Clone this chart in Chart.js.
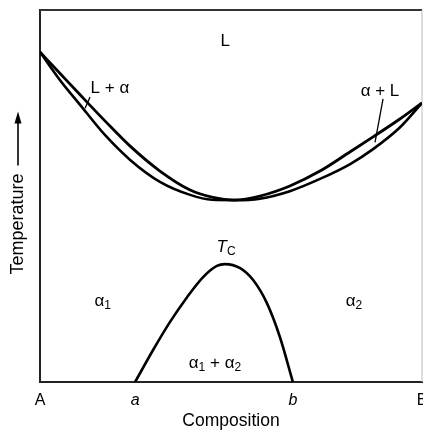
<!DOCTYPE html>
<html><head><meta charset="utf-8">
<script src="https://cdn.jsdelivr.net/npm/chart.js@4/dist/chart.umd.min.js"></script>
<style>html,body{margin:0;padding:0;background:#fff;}canvas{display:block;}</style>
</head><body>
<canvas id="c" width="423" height="432"></canvas>
<script>
// ---- data (composition 0..100, temperature 0..100) ----
const liquidusX = [0, 5.2, 10.5, 17.0, 23.6, 31.4, 39.3, 45.0, 51.0, 57.6, 65.4, 73.3, 81.2, 87.2, 94.2, 100];
const liquidusY = [88.7, 83.0, 77.2, 70.2, 63.4, 56.7, 51.6, 49.7, 48.9, 50.0, 52.7, 56.7, 61.9, 65.9, 70.7, 75.0];
const solidusX  = [0, 5.2, 10.5, 17.0, 23.6, 31.4, 39.3, 45.0, 51.0, 57.6, 65.4, 73.3, 81.2, 87.2, 94.2, 100];
const solidusY  = [88.7, 81.2, 74.5, 66.4, 59.7, 53.8, 50.3, 49.0, 48.9, 49.3, 51.3, 54.6, 58.6, 62.6, 68.4, 75.0];
const domeX = [24.9, 29.6, 34.0, 38.5, 42.7, 46.3, 48.4, 52.4, 55.8, 59.4, 62.8, 66.2];
const domeY = [0, 8.6, 16.1, 22.8, 28.2, 31.2, 31.7, 30.6, 27.4, 21.2, 12.1, 0];
const leaderLeftX = [13.1, 11.8];
const leaderLeftY = [76.6, 73.6];
const leaderRightX = [89.8, 87.7];
const leaderRightY = [76.1, 64.4];
const compTicks = [0, 24.9, 66.2, 100];
const compLabels = ['A', 'a', 'b', 'B'];
const regionLabels = ['L', 'L + α', 'α + L', 'T_C', 'α_1', 'α_2', 'α_1 + α_2'];
const regionX = [48.5, 18.3, 89.0, 48.7, 16.4, 82.2, 45.8];
const regionY = [91.5, 79.0, 78.2, 36.3, 21.8, 21.8, 5.1];
const xTitle = 'Composition';
const yTitle = 'Temperature';

const FONT = "'Liberation Sans', Arial, Helvetica, sans-serif";
const INK = '#000';

function pts(xs, ys) { return xs.map((x, i) => ({x: x, y: ys[i]})); }
function curve(xs, ys, w) {
  return {data: pts(xs, ys), borderColor: INK, borderWidth: w, pointRadius: 0,
          fill: false, cubicInterpolationMode: 'monotone'};
}

const framePlugin = {
  id: 'frame',
  beforeDatasetsDraw(chart) {
    const {ctx, chartArea: a} = chart;
    ctx.save();
    ctx.strokeStyle = '#333';
    ctx.lineWidth = 2;
    ctx.beginPath();
    ctx.moveTo(a.left, a.top); ctx.lineTo(a.right, a.top);
    ctx.stroke();
    ctx.strokeStyle = '#bbb';
    ctx.lineWidth = 1;
    ctx.beginPath();
    ctx.moveTo(a.right, a.top); ctx.lineTo(a.right, a.bottom);
    ctx.stroke();
    ctx.restore();
  }
};

function drawRich(ctx, text, cx, cy, italicMain) {
  const segs = [];
  for (let i = 0; i < text.length; i++) {
    if (text[i] === '_' && i + 1 < text.length) { segs.push({t: text[i + 1], sub: true}); i++; }
    else {
      const last = segs[segs.length - 1];
      if (last && !last.sub) last.t += text[i]; else segs.push({t: text[i], sub: false});
    }
  }
  const mainFont = (italicMain ? 'italic ' : '') + '17px ' + FONT;
  const subFont = '12px ' + FONT;
  let total = 0;
  segs.forEach(s => { ctx.font = s.sub ? subFont : mainFont; s.w = ctx.measureText(s.t).width; total += s.w; });
  let x = cx - total / 2;
  ctx.textBaseline = 'middle';
  ctx.textAlign = 'left';
  segs.forEach(s => {
    ctx.font = s.sub ? subFont : mainFont;
    ctx.fillText(s.t, x, s.sub ? cy + 5 : cy);
    x += s.w;
  });
}

const labelPlugin = {
  id: 'labels',
  afterDatasetsDraw(chart) {
    const {ctx, scales: {x, y}, chartArea: a} = chart;
    ctx.save();
    ctx.fillStyle = INK;
    regionLabels.forEach((t, i) => {
      drawRich(ctx, t, x.getPixelForValue(regionX[i]), y.getPixelForValue(regionY[i]), t.startsWith('T'));
    });
    // y axis title with arrow
    const tx = y.left + 18;
    const midY = (a.top + a.bottom) / 2;
    ctx.save();
    ctx.translate(tx, midY + 28);
    ctx.rotate(-Math.PI / 2);
    ctx.font = '18px ' + FONT;
    ctx.textAlign = 'center';
    ctx.textBaseline = 'middle';
    ctx.fillText(yTitle, 0, 0);
    const w = ctx.measureText(yTitle).width;
    const s0 = w / 2 + 8, s1 = s0 + 54;
    ctx.strokeStyle = INK;
    ctx.lineWidth = 1.6;
    ctx.beginPath();
    ctx.moveTo(s0, 0); ctx.lineTo(s1 - 10, 0);
    ctx.stroke();
    ctx.beginPath();
    ctx.moveTo(s1, 0); ctx.lineTo(s1 - 12, -3.5); ctx.lineTo(s1 - 12, 3.5); ctx.closePath();
    ctx.fill();
    ctx.restore();
    ctx.restore();
  }
};

new Chart(document.getElementById('c'), {
  type: 'line',
  data: {
    datasets: [
      curve(liquidusX, liquidusY, 2.8),
      curve(solidusX, solidusY, 2.6),
      curve(domeX, domeY, 2.6),
      curve(leaderLeftX, leaderLeftY, 1.3),
      curve(leaderRightX, leaderRightY, 1.3)
    ]
  },
  options: {
    responsive: false,
    animation: false,
    events: [],
    layout: {padding: {top: 10, right: 1, left: 0, bottom: 0}},
    plugins: {legend: {display: false}, tooltip: {enabled: false}},
    scales: {
      x: {
        type: 'linear', min: 0, max: 100,
        afterFit(s) { s.height = 50; s.paddingLeft = 0; s.paddingRight = 0; },
        afterBuildTicks(s) { s.ticks = compTicks.map(v => ({value: v})); },
        grid: {display: false, drawTicks: false},
        border: {display: true, color: '#222', width: 2},
        ticks: {
          autoSkip: false, maxRotation: 0, padding: 9, color: INK,
          callback: (v, i) => compLabels[i],
          font: (ctx) => ({family: FONT, size: 16,
                           style: (ctx.index === 1 || ctx.index === 2) ? 'italic' : 'normal'})
        },
        title: {display: true, text: xTitle, color: INK, font: {family: FONT, size: 17.5},
                padding: {top: 0, bottom: 0}}
      },
      y: {
        type: 'linear', min: 0, max: 100,
        afterFit(s) { s.width = 40; s.paddingTop = 0; s.paddingBottom = 0; },
        grid: {display: false, drawTicks: false},
        border: {display: true, color: '#222', width: 2},
        ticks: {display: false},
        title: {display: false}
      }
    }
  },
  plugins: [framePlugin, labelPlugin]
});
</script>
</body></html>
